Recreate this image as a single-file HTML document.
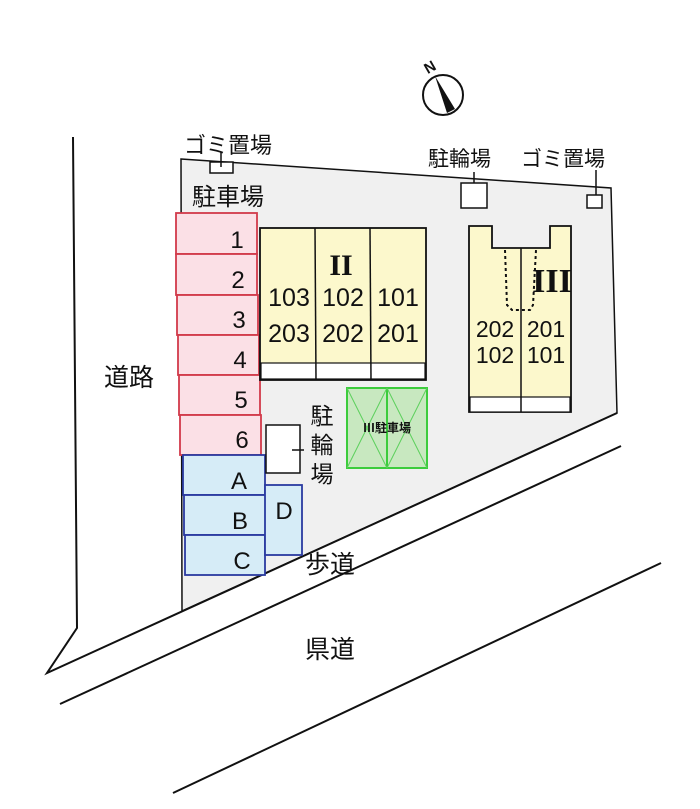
<!DOCTYPE html>
<html><head><meta charset="utf-8"><style>
body{margin:0;background:#fff;}
svg{display:block;}
text{font-family:"Liberation Sans","Noto Sans CJK JP",sans-serif;fill:#111;}
</style></head><body>
<svg width="700" height="809" viewBox="0 0 700 809" xmlns="http://www.w3.org/2000/svg">
<polygon points="181,159 611,188 617,413 182,611" fill="#f0f0f0" stroke="#111" stroke-width="1.5"/>
<polyline points="73,137 77,628 47,673 617,413" fill="none" stroke="#111" stroke-width="2"/>
<line x1="60" y1="704" x2="621" y2="446" stroke="#111" stroke-width="2"/>
<line x1="173" y1="793" x2="661" y2="563" stroke="#111" stroke-width="2"/>
<circle cx="443" cy="95" r="20" fill="#fff" stroke="#111" stroke-width="2"/>
<polygon points="435,76 455,109 447,113" fill="#111"/>
<text x="424" y="72" font-size="15" font-weight="bold" transform="rotate(-30 430 66)">N</text>
<rect x="210" y="162" width="23" height="11" fill="#fff" stroke="#111" stroke-width="1.5"/>
<line x1="221" y1="152" x2="221" y2="167" stroke="#111" stroke-width="1.5"/>
<text x="184" y="153" font-size="22">ゴミ置場</text>
<text x="192" y="205" font-size="24">駐車場</text>
<g fill="#fbe0e6" stroke="#d23a4a" stroke-width="1.8">
<rect x="176" y="213" width="81" height="41"/><rect x="176" y="254" width="81" height="41"/>
<rect x="177" y="295" width="81" height="40"/><rect x="178" y="335" width="81" height="40"/>
<rect x="179" y="375" width="81" height="40"/><rect x="180" y="415" width="81" height="40"/>
</g>
<g fill="#d6ecf7" stroke="#2a3aa0" stroke-width="1.8">
<rect x="183" y="455" width="82" height="40"/><rect x="184" y="495" width="82" height="40"/>
<rect x="185" y="535" width="80" height="40"/><rect x="265" y="485" width="37" height="70"/>
</g>
<g font-size="24" text-anchor="middle">
<text x="237" y="248">1</text><text x="238" y="288">2</text><text x="239" y="328">3</text>
<text x="240" y="368">4</text><text x="241" y="408">5</text><text x="242" y="448">6</text>
<text x="239" y="489">A</text><text x="240" y="529">B</text><text x="242" y="569">C</text>
<text x="284" y="519">D</text>
</g>
<rect x="260" y="228" width="166" height="152" fill="#fcf8cc" stroke="#111" stroke-width="1.8"/>
<rect x="261" y="363" width="164" height="16" fill="#fff" stroke="#111" stroke-width="1.2"/>
<line x1="315" y1="228" x2="316" y2="380" stroke="#111" stroke-width="1.5"/>
<line x1="370" y1="228" x2="371" y2="380" stroke="#111" stroke-width="1.5"/>
<text x="341" y="275" font-size="30" font-weight="bold" text-anchor="middle" style="font-family:'Liberation Serif',serif">II</text>
<g font-size="25" text-anchor="middle">
<text x="289" y="306">103</text><text x="343" y="306">102</text><text x="398" y="306">101</text>
<text x="289" y="342">203</text><text x="343" y="342">202</text><text x="398" y="342">201</text>
</g>
<rect x="266" y="425" width="34" height="48" fill="#fff" stroke="#111" stroke-width="1.5"/>
<line x1="292" y1="450" x2="304" y2="450" stroke="#111" stroke-width="1.5"/>
<g font-size="23" text-anchor="middle"><text x="322" y="424">駐</text><text x="322" y="453">輪</text><text x="322" y="482">場</text></g>
<rect x="347" y="388" width="80" height="80" fill="#c8e8c0" stroke="#3ccc3c" stroke-width="2"/>
<line x1="387" y1="388" x2="387" y2="468" stroke="#3ccc3c" stroke-width="2"/>
<g stroke="#5ad05a" stroke-width="1"><line x1="347" y1="388" x2="387" y2="468"/><line x1="387" y1="388" x2="347" y2="468"/><line x1="387" y1="388" x2="427" y2="468"/><line x1="427" y1="388" x2="387" y2="468"/></g>
<text x="387" y="432" font-size="12" font-weight="bold" text-anchor="middle">Ⅲ駐車場</text>
<polygon points="469,226 492,226 492,248 550,248 550,226 571,226 571,412 469,412" fill="#fcf8cc" stroke="#111" stroke-width="1.8"/>
<rect x="470" y="397" width="100" height="15" fill="#fff" stroke="#111" stroke-width="1.2"/>
<line x1="521" y1="248" x2="521" y2="412" stroke="#111" stroke-width="1.5"/>
<polyline points="505,250 507,305 512,310 530,310 533,305 536,250" fill="none" stroke="#111" stroke-width="2" stroke-dasharray="3,3"/>
<text x="552" y="292" font-size="34" font-weight="bold" text-anchor="middle" style="font-family:'Liberation Serif',serif">III</text>
<g font-size="23" text-anchor="middle">
<text x="495" y="337">202</text><text x="546" y="337">201</text>
<text x="495" y="363">102</text><text x="546" y="363">101</text>
</g>
<rect x="461" y="183" width="26" height="25" fill="#fff" stroke="#111" stroke-width="1.5"/>
<line x1="474" y1="172" x2="474" y2="183" stroke="#111" stroke-width="1.5"/>
<text x="428" y="166" font-size="21">駐輪場</text>
<rect x="587" y="195" width="15" height="13" fill="#fff" stroke="#111" stroke-width="1.5"/>
<line x1="596" y1="170" x2="596" y2="195" stroke="#111" stroke-width="1.5"/>
<text x="521" y="166" font-size="21">ゴミ置場</text>
<text x="104" y="386" font-size="25">道路</text>
<text x="305" y="573" font-size="25">歩道</text>
<text x="305" y="658" font-size="25">県道</text>
</svg>
</body></html>
